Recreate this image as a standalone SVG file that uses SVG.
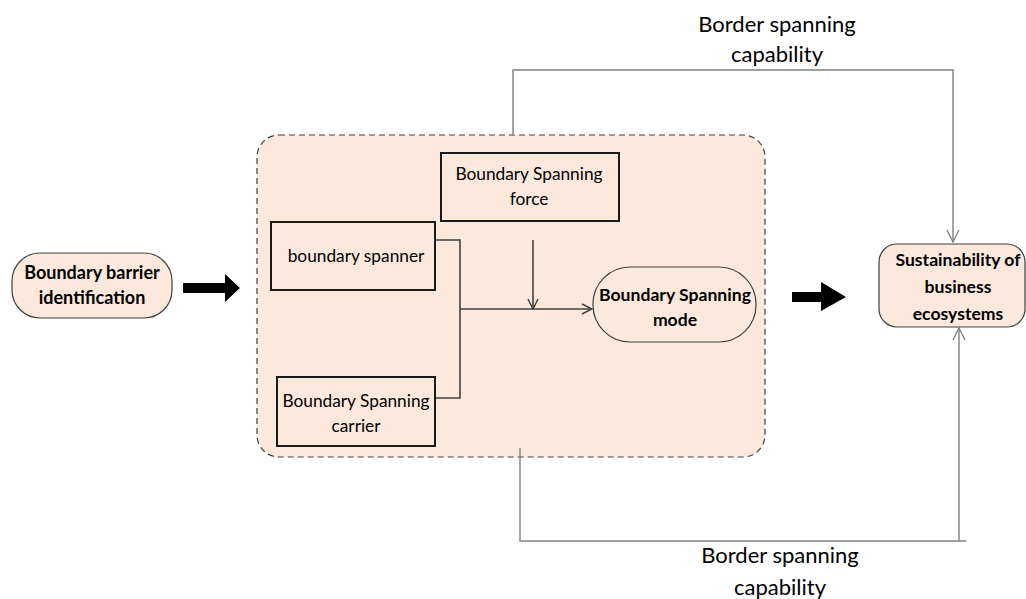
<svg xmlns="http://www.w3.org/2000/svg" width="1026" height="599" viewBox="0 0 1026 599">
<defs>
<style>
.t{font-family:Lato,"Open Sans","Liberation Sans",sans-serif;fill:#000;text-anchor:middle}
.n{font-size:17.3px}
.b{font-size:17.6px;font-weight:bold}
.bb{font-size:18px;font-weight:bold}
.lbl{font-size:22px}
.box{fill:none;stroke:#1a1a1a;stroke-width:2}
.pill{fill:#fde9dc;stroke:#404040;stroke-width:1.2}
.c{fill:none;stroke:#404040;stroke-width:1.6}
.g{fill:none;stroke:#808080;stroke-width:1.4}
</style>
<marker id="oa" viewBox="0 0 12 12" refX="11" refY="6" markerWidth="12" markerHeight="12" markerUnits="userSpaceOnUse" orient="auto">
<path d="M1,1 L11,6 L1,11" fill="none" stroke="#404040" stroke-width="1.5"/>
</marker>
<marker id="og" viewBox="0 0 14 14" refX="13" refY="7" markerWidth="14" markerHeight="14" markerUnits="userSpaceOnUse" orient="auto">
<path d="M1,1 L13,7 L1,13" fill="none" stroke="#808080" stroke-width="1.3"/>
</marker>
</defs>
<rect width="1026" height="599" fill="#fff"/>
<g id="container">
<rect x="257" y="135" width="508" height="322" rx="22" fill="#fde9dc" stroke="#404040" stroke-width="1.2" stroke-dasharray="6,4"/>
</g>
<g id="connectors">
<polyline class="g" points="513,135 513,70 953,70 953,242" marker-end="url(#og)"/>
<polyline class="g" points="520,448 520,541 966,541"/>
<line class="g" x1="959" y1="541" x2="959" y2="328" marker-end="url(#og)"/>
<polyline class="c" points="435,240 460,240 460,398 435,398"/>
<line class="c" x1="460" y1="309" x2="592" y2="309" marker-end="url(#oa)"/>
<line class="c" x1="533" y1="240" x2="533" y2="309" marker-end="url(#oa)"/>
<path d="M183,283 L225,283 L225,274 L240,288 L225,302 L225,293 L183,293 Z" fill="#000"/>
<path d="M792,292 L821,292 L821,282 L846,297 L821,311 L821,302 L792,302 Z" fill="#000"/>
</g>
<g id="barrier">
<rect class="pill" x="12" y="253" width="160" height="65" rx="28"/>
<text class="t bb" x="92" y="279">Boundary barrier</text>
<text class="t bb" x="92" y="304">identification</text>
</g>
<g id="force">
<rect class="box" x="441" y="153" width="178" height="68"/>
<text class="t n" x="529" y="180">Boundary Spanning</text>
<text class="t n" x="529" y="205">force</text>
</g>
<g id="spanner">
<rect class="box" x="271" y="222" width="164" height="68"/>
<text class="t n" x="356" y="262">boundary spanner</text>
</g>
<g id="carrier">
<rect class="box" x="277" y="377" width="158" height="69"/>
<text class="t n" x="356" y="407">Boundary Spanning</text>
<text class="t n" x="356" y="432">carrier</text>
</g>
<g id="mode">
<rect class="pill" x="593" y="267" width="163" height="75" rx="37"/>
<text class="t b" x="675" y="301">Boundary Spanning</text>
<text class="t b" x="675" y="326">mode</text>
</g>
<g id="sustainability">
<rect class="pill" x="879" y="244" width="146" height="83" rx="18"/>
<text class="t b" x="958" y="266">Sustainability of</text>
<text class="t b" x="958" y="293">business</text>
<text class="t b" x="958" y="320">ecosystems</text>
</g>
<g id="labels">
<text class="t lbl" x="777" y="32">Border spanning</text>
<text class="t lbl" x="777" y="62">capability</text>
<text class="t lbl" x="780" y="563">Border spanning</text>
<text class="t lbl" x="780" y="595">capability</text>
</g>
</svg>
